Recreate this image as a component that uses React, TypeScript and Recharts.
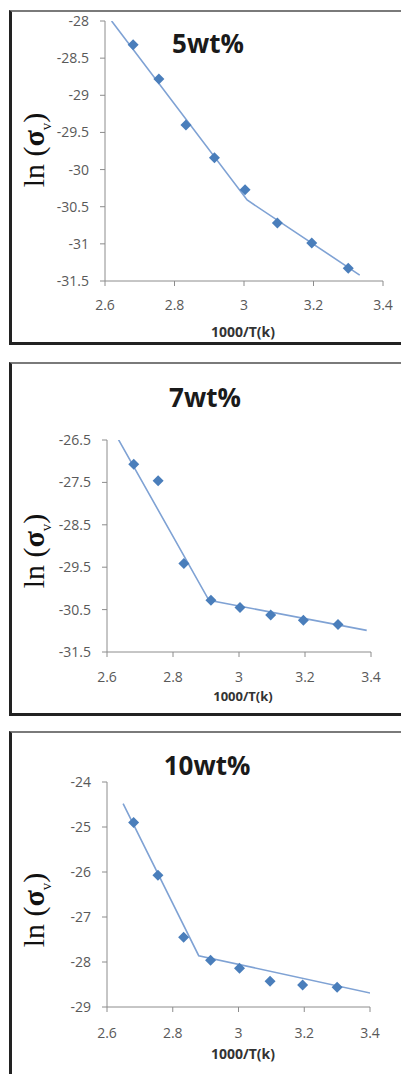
import React from 'react';
import { ScatterChart, Scatter, XAxis, YAxis } from 'recharts';

// ─── Data ─────────────────────────────────────────────────────────────────────

const invT = [2.681, 2.755, 2.833, 2.915, 3.003, 3.096, 3.195, 3.3];
const xTicks = [2.6, 2.8, 3, 3.2, 3.4];

const ln5 = [-28.32, -28.78, -29.4, -29.84, -30.27, -30.72, -30.99, -31.33];
const ln7 = [-27.07, -27.46, -29.41, -30.28, -30.45, -30.63, -30.75, -30.85];
const ln10 = [-24.9, -26.07, -27.45, -27.96, -28.14, -28.43, -28.51, -28.56];

// two-segment fits (break point in the middle)
const fit5X = [2.619, 3.009, 3.333];
const fit5Y = [-28.0, -30.41, -31.42];
const fit7X = [2.621, 2.909, 3.387];
const fit7Y = [-26.3, -30.28, -30.99];
const fit10X = [2.649, 2.879, 3.401];
const fit10Y = [-24.48, -27.86, -28.69];

const yTicks5 = [-31.5, -31, -30.5, -30, -29.5, -29, -28.5, -28];
const yTicks7 = [-31.5, -30.5, -29.5, -28.5, -27.5, -26.5];
const yTicks10 = [-29, -28, -27, -26, -25, -24];

// ─── Styles ───────────────────────────────────────────────────────────────────

const MARK = '#4A7EBB';
const FIT = '#7FA2D4';
const AXIS = '#8C8C8C';
const TICK = { fill: '#595959', fontSize: 14, fontFamily: "'Open Sans', sans-serif" };

const toPts = (xs: number[], ys: number[]) => xs.map((x, i) => ({ x, y: ys[i] }));

function Diamond(props: any) {
  const { cx, cy } = props;
  if (cx == null || cy == null) return <g />;
  const r = 5.5;
  return <polygon points={`${cx},${cy - r} ${cx + r},${cy} ${cx},${cy + r} ${cx - r},${cy}`} fill={MARK} />;
}

const NoDot = () => <g />;

interface PanelProps {
  top: number;
  height: number;
  boxTop: number;
  boxHeight: number;
  plot: { left: number; right: number; top: number; bottom: number };
  yDomain: [number, number];
  yTicks: number[];
  xTickMargin: number;
  points: { x: number; y: number }[];
  fit: { x: number; y: number }[];
  title: string;
  titleX: number;
  titleY: number;
  yLabelY: number;
  xLabelY: number;
  xLabelSize?: number;
}

function Panel(p: PanelProps) {
  const xAxisH = 40;
  const margin = {
    top: p.plot.top - p.top,
    right: 401 - p.plot.right,
    left: 0,
    bottom: p.top + p.height - p.plot.bottom - xAxisH,
  };
  return (
    <>
      <div style={{
        position: 'absolute', left: 9, top: p.boxTop, width: 420, height: p.boxHeight,
        borderLeft: '3px solid #222', borderBottom: '3px solid #222', borderTop: '2px solid #7a7a7a',
        boxSizing: 'border-box', background: '#fff',
      }} />
      <div style={{ position: 'absolute', left: 0, top: p.top }}>
        <ScatterChart width={401} height={p.height} margin={margin}>
          <XAxis
            type="number"
            dataKey="x"
            domain={[2.6, 3.4]}
            ticks={xTicks}
            allowDataOverflow
            height={xAxisH}
            stroke={AXIS}
            tick={TICK}
            tickSize={5}
            tickMargin={p.xTickMargin}
          />
          <YAxis
            type="number"
            dataKey="y"
            domain={p.yDomain}
            ticks={p.yTicks}
            allowDataOverflow
            width={p.plot.left}
            stroke={AXIS}
            tick={TICK}
            tickSize={5}
            tickMargin={11}
          />
          <Scatter data={p.fit} line={{ stroke: FIT, strokeWidth: 1.6 }} lineType="joint" shape={NoDot} isAnimationActive={false} />
          <Scatter data={p.points} shape={Diamond} isAnimationActive={false} />
        </ScatterChart>
      </div>
      <div style={{
        position: 'absolute', left: p.titleX, top: p.titleY, transform: 'translate(-50%, -50%)',
        fontFamily: "'Open Sans', sans-serif", fontWeight: 700, fontSize: 26, color: '#1a1a1a', whiteSpace: 'nowrap',
      }}>{p.title}</div>
      <div style={{
        position: 'absolute', left: 36, top: p.yLabelY, transform: 'translate(-50%, -50%) rotate(-90deg)',
        fontFamily: "'Liberation Serif', 'DejaVu Serif', serif", fontSize: 30, color: '#111', whiteSpace: 'nowrap',
      }}>
        ln (<b>σ</b><sub style={{ fontSize: 15 }}>v</sub>)
      </div>
      <div style={{
        position: 'absolute', left: 243, top: p.xLabelY, transform: 'translate(-50%, -50%)',
        fontFamily: "'Open Sans', sans-serif", fontWeight: 700, fontSize: p.xLabelSize ?? 14, color: '#333', whiteSpace: 'nowrap',
      }}>1000/T(k)</div>
    </>
  );
}

export default function App() {
  return (
    <div style={{ position: 'absolute', left: 0, top: 0, width: 401, height: 1074, overflow: 'hidden', background: '#fff' }}>
      <Panel
        top={0} height={344} boxTop={10} boxHeight={335}
        plot={{ left: 105, right: 383, top: 21, bottom: 281 }}
        yDomain={[-31.5, -28]} yTicks={yTicks5} xTickMargin={14}
        points={toPts(invT, ln5)} fit={toPts(fit5X, fit5Y)}
        title="5wt%" titleX={208} titleY={43} yLabelY={150} xLabelY={331}
      />
      <Panel
        top={355} height={360} boxTop={362} boxHeight={354}
        plot={{ left: 107, right: 371, top: 440, bottom: 652 }}
        yDomain={[-31.5, -26.5]} yTicks={yTicks7} xTickMargin={15}
        points={toPts(invT, ln7)} fit={toPts(fit7X, fit7Y)}
        title="7wt%" titleX={205} titleY={397} yLabelY={551} xLabelY={696} xLabelSize={13}
      />
      <Panel
        top={720} height={354} boxTop={731} boxHeight={400}
        plot={{ left: 107, right: 370, top: 782, bottom: 1007 }}
        yDomain={[-29, -24]} yTicks={yTicks10} xTickMargin={16}
        points={toPts(invT, ln10)} fit={toPts(fit10X, fit10Y)}
        title="10wt%" titleX={207} titleY={765} yLabelY={910} xLabelY={1053}
      />
    </div>
  );
}
